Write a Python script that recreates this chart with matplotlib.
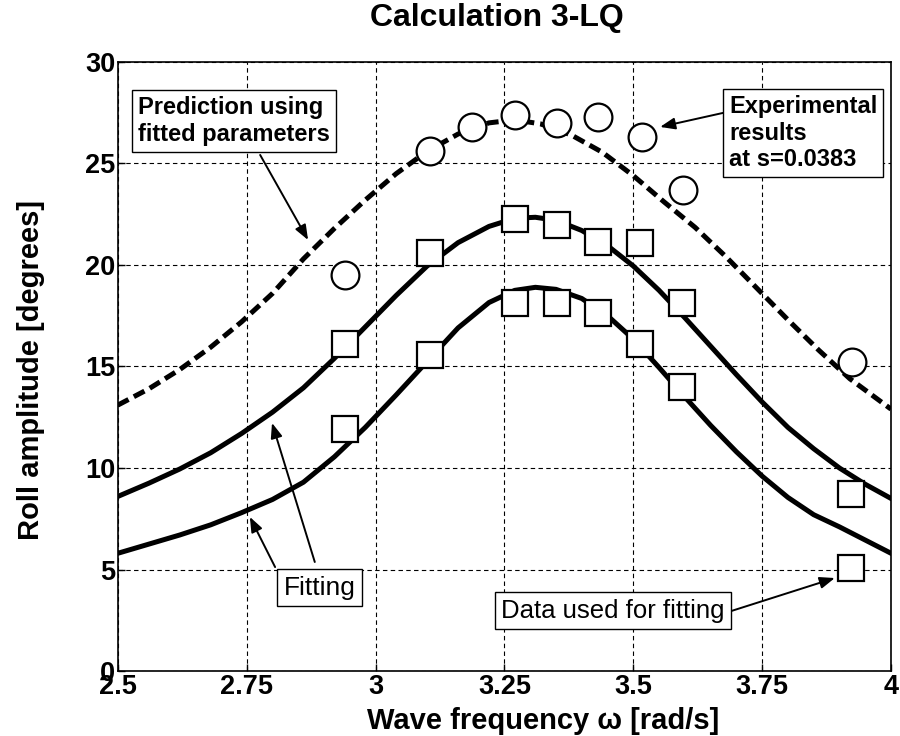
import numpy as np
import matplotlib.pyplot as plt

plt.rcParams['font.family'] = ['Liberation Sans', 'DejaVu Sans']

# 实验点 (s=0.0383)
w_exp = [2.94, 3.105, 3.188, 3.27, 3.351, 3.432, 3.516, 3.597, 3.924]
roll_exp = [19.5, 25.6, 26.8, 27.4, 27.0, 27.3, 26.3, 23.7, 15.2]

# 拟合用数据（两组方块）
w_fit = [2.94, 3.105, 3.27, 3.351, 3.432, 3.513, 3.594, 3.922]
roll_fit_hi = [16.1, 20.6, 22.25, 21.97, 21.12, 21.07, 18.11, 8.7]
roll_fit_lo = [11.9, 15.57, 18.11, 18.11, 17.65, 16.1, 14.0, 5.06]

# 预测曲线（虚线）
w_pred = [2.50, 2.56, 2.62, 2.68, 2.74, 2.80, 2.86, 2.92, 2.98, 3.04, 3.10,
          3.16, 3.22, 3.27, 3.32, 3.38, 3.44, 3.50, 3.56, 3.62, 3.68, 3.74,
          3.80, 3.86, 3.92, 4.00]
roll_pred = [13.1, 13.9, 14.85, 15.95, 17.2, 18.6, 20.3, 21.8, 23.2, 24.5, 25.6,
             26.45, 27.0, 27.15, 26.95, 26.4, 25.55, 24.4, 23.1, 21.85, 20.4, 18.85,
             17.3, 15.8, 14.4, 12.9]

# 拟合曲线（实线）
w_hi = [2.50, 2.56, 2.62, 2.68, 2.74, 2.80, 2.86, 2.92, 2.98, 3.04, 3.10,
        3.16, 3.22, 3.27, 3.31, 3.35, 3.40, 3.45, 3.50, 3.55, 3.60, 3.65,
        3.70, 3.75, 3.80, 3.85, 3.90, 3.95, 4.00]
roll_hi = [8.6, 9.25, 9.95, 10.75, 11.7, 12.75, 13.95, 15.4, 16.95, 18.5, 19.95,
           21.1, 21.9, 22.3, 22.35, 22.2, 21.7, 20.95, 19.95, 18.75, 17.4, 16.0,
           14.6, 13.25, 12.0, 10.95, 10.0, 9.2, 8.5]

w_lo = [2.50, 2.56, 2.62, 2.68, 2.74, 2.80, 2.86, 2.92, 2.98, 3.04, 3.10,
        3.16, 3.22, 3.27, 3.31, 3.35, 3.40, 3.45, 3.50, 3.55, 3.60, 3.65,
        3.70, 3.75, 3.80, 3.85, 3.90, 3.95, 4.00]
roll_lo = [5.8, 6.25, 6.7, 7.2, 7.8, 8.45, 9.3, 10.55, 12.0, 13.6, 15.25,
           16.9, 18.15, 18.75, 18.9, 18.8, 18.35, 17.5, 16.35, 14.95, 13.5, 12.1,
           10.8, 9.6, 8.55, 7.7, 7.1, 6.45, 5.8]

xticks = [2.5, 2.75, 3, 3.25, 3.5, 3.75, 4]
xtick_labels = ['2.5', '2.75', '3', '3.25', '3.5', '3.75', '4']
yticks = [0, 5, 10, 15, 20, 25, 30]

fig = plt.figure(figsize=(9, 7.36), dpi=100)
ax = fig.add_axes([0.131, 0.0883, 0.859, 0.8275])

ax.plot(w_pred, roll_pred, color='k', lw=3.6, dashes=(2.4, 1.2), zorder=2)
ax.plot(w_hi, roll_hi, color='k', lw=3.6, zorder=2)
ax.plot(w_lo, roll_lo, color='k', lw=3.6, zorder=2)

ax.plot(w_exp, roll_exp, 'o', ms=20, mfc='white', mec='k', mew=1.6, zorder=3)
ax.plot(w_fit, roll_fit_hi, 's', ms=18.5, mfc='white', mec='k', mew=1.6, zorder=3)
ax.plot(w_fit, roll_fit_lo, 's', ms=18.5, mfc='white', mec='k', mew=1.6, zorder=3)

ax.set_xlim(2.5, 4)
ax.set_ylim(0, 30)
ax.set_xticks(xticks)
ax.set_xticklabels(xtick_labels)
ax.set_yticks(yticks)
ax.grid(True, color='k', lw=0.8, linestyle=(0, (4, 3)))
ax.tick_params(direction='in', length=5, width=1, labelsize=19.5, pad=2)
for lab in ax.get_xticklabels() + ax.get_yticklabels():
    lab.set_fontweight('bold')
for sp in ax.spines.values():
    sp.set_linewidth(1.2)

fig.text(0.552, 1 - 18 / 736, 'Calculation 3-LQ', ha='center', va='center',
         fontsize=23, fontweight='bold')
fig.text(0.604, 1 - 721 / 736, 'Wave frequency ω [rad/s]', ha='center',
         va='center', fontsize=21, fontweight='bold')
fig.text(0.034, 1 - 370 / 736, 'Roll amplitude [degrees]', ha='center',
         va='center', rotation=90, fontsize=21, fontweight='bold')

box = dict(boxstyle='square,pad=0.25', fc='white', ec='k', lw=1)
arrow = dict(arrowstyle='-|>,head_length=0.9,head_width=0.35', color='k',
             lw=1.4, shrinkA=0, shrinkB=0)

ax.text(2.539, 27.10, 'Prediction using\nfitted parameters', ha='left',
        va='center', fontsize=17, fontweight='bold', bbox=box, zorder=5)
ax.annotate('', xy=(2.869, 21.23), xytext=(2.776, 25.42), arrowprops=arrow)

ax.text(3.686, 26.50, 'Experimental\nresults\nat s=0.0383', ha='left',
        va='center', fontsize=17, fontweight='bold', bbox=box, zorder=5)
ax.annotate('', xy=(3.552, 26.80), xytext=(3.674, 27.49), arrowprops=arrow)

ax.text(2.891, 4.10, 'Fitting', ha='center', va='center', fontsize=19,
        bbox=box, zorder=5)
ax.annotate('', xy=(2.756, 7.59), xytext=(2.805, 5.12), arrowprops=arrow)
ax.annotate('', xy=(2.799, 12.22), xytext=(2.882, 5.37), arrowprops=arrow)

ax.text(3.461, 2.96, 'Data used for fitting', ha='center', va='center',
        fontsize=18.5, bbox=box, zorder=5)
ax.annotate('', xy=(3.891, 4.58), xytext=(3.635, 2.51), arrowprops=arrow)

plt.savefig('out.png', dpi=100)
